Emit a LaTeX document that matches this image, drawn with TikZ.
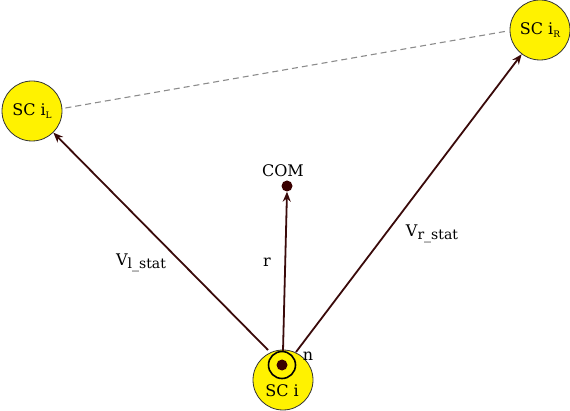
\documentclass[tikz,border=0pt]{standalone}
\usepackage{fontspec}
\setmainfont{DejaVu Serif}
\usetikzlibrary{arrows.meta}
\definecolor{arr}{HTML}{3A0A0A}
\definecolor{dotc}{HTML}{3A0000}
\tikzset{
  sc/.style={circle, draw=black!80, line width=0.8pt, fill=yellow, minimum size=60pt, inner sep=0pt, font=\fontsize{16}{16}\selectfont},
  vec/.style={draw=arr, line width=1.8pt, -{Stealth[length=10pt,width=8pt]}},
  lbl/.style={font=\fontsize{16}{16}\selectfont, inner sep=0pt},
  dotn/.style={circle, fill=dotc, minimum size=11pt, inner sep=0pt},
}
\begin{document}
\begin{tikzpicture}[x=1pt,y=-1pt]
\useasboundingbox (0,0) rectangle (570,411);
\node[sc] (i) at (283,380) {};
\node[lbl] at (282,391) {SC i};
\node[circle, draw=black, line width=1.6pt, minimum size=27pt, inner sep=0pt] (ring) at (282,365) {};
\node[dotn] (n) at (282,365) {};
\node[sc] (iL) at (32,111) {SC i\raisebox{-0.3ex}{\fontsize{9}{9}\selectfont L}};
\node[sc] (iR) at (540,30) {SC i\raisebox{-0.3ex}{\fontsize{9}{9}\selectfont R}};
\node[dotn] (com) at (287,186) {};
\node[lbl] at (283,171) {COM};
\path (iL.east) ++(3,-3) coordinate (dl) (iR.west) ++(-2,1) coordinate (dr);
\draw[black!45, line width=1.1pt, dash pattern=on 6pt off 4pt] (dl) -- (dr);
\coordinate (sL) at (268,350);
\coordinate (sM) at (283,351);
\coordinate (sR) at (296,352);
\draw[vec] (sL) -- (iL);
\draw[vec] (sM) -- (com.south);
\draw[vec] (sR) -- (iR);
\node[lbl] at (141,263) {V\raisebox{-0.4ex}{\fontsize{14}{14}\selectfont l\_stat}};
\node[lbl] at (267,262) {r};
\node[lbl] at (432,234) {V\raisebox{-0.4ex}{\fontsize{14}{14}\selectfont r\_stat}};
\node[lbl] at (308,356) {n};
\end{tikzpicture}
\end{document}
